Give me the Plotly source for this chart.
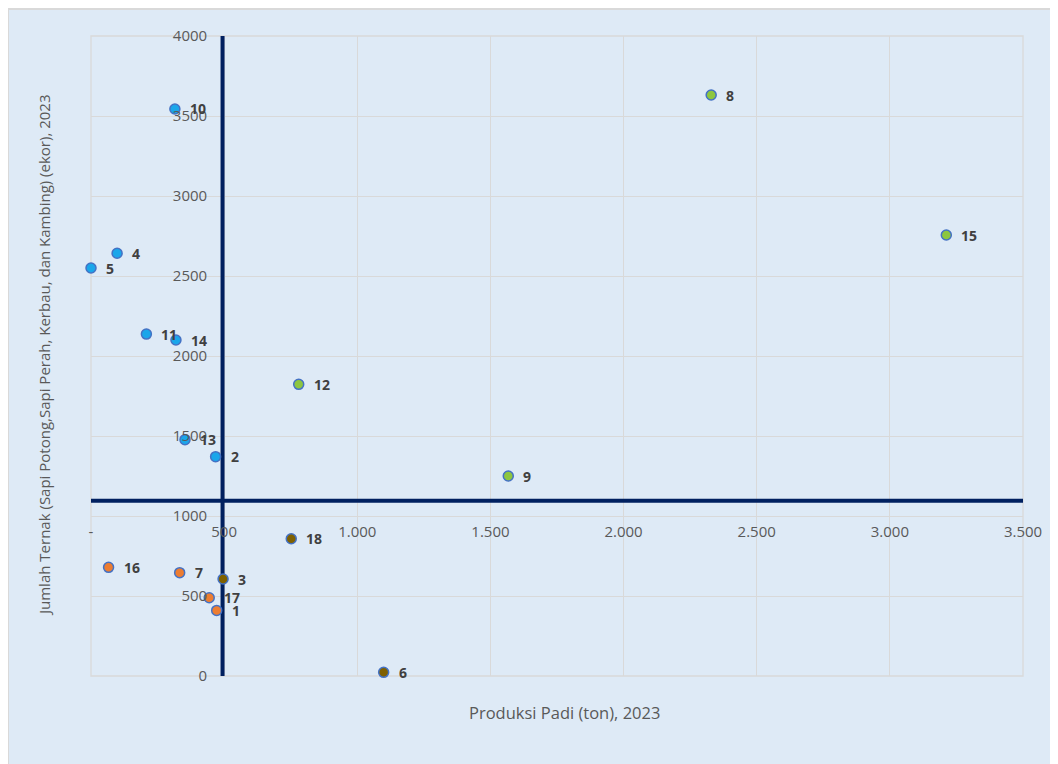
import plotly.graph_objects as go

# Data
labels = ["1", "2", "3", "4", "5", "6", "7", "8", "9", "10", "11", "12", "13", "14", "15", "16", "17", "18"]
padi = [472, 468, 496, 98, 0, 1099, 333, 2329, 1567, 315, 208, 780, 353, 319, 3212, 66, 444, 752]
ternak = [410, 1371, 606, 2642, 2550, 23, 646, 3631, 1250, 3544, 2137, 1823, 1477, 2100, 2756, 679, 489, 858]
quadrant = ["LL", "UL", "LR", "UL", "UL", "LR", "LL", "UR", "UR", "UL", "UL", "UR", "UL", "UL", "UR", "LL", "LL", "LR"]

quad_colors = {"UL": "#1AA6EA", "UR": "#8DC63F", "LL": "#ED7D31", "LR": "#7F6000"}

x_ticks = [0, 500, 1000, 1500, 2000, 2500, 3000, 3500]
x_ticktext = ["-", "500", "1.000", "1.500", "2.000", "2.500", "3.000", "3.500"]
y_ticks = [0, 500, 1000, 1500, 2000, 2500, 3000, 3500, 4000]
y_ticktext = ["0", "500", "1000", "1500", "2000", "2500", "3000", "3500", "4000"]

mean_x = 494
mean_y = 1096

x_title = "Produksi Padi (ton), 2023"
y_title = "Jumlah Ternak (Sapi Potong,Sapi Perah, Kerbau, dan Kambing) (ekor), 2023"

# page body has an 8px margin; figure sized to fit the window
OFF = 8
W, H = 1050, 756
L, R, T, B = 83, 35, 28, 88
pw, ph = W - L - R, H - T - B

def px_to_paper_x(px):
    return (px - OFF - L) / pw

def py_to_paper_y(py):
    return (H - B - (py - OFF)) / ph

fig = go.Figure()

# quadrant lines
fig.add_trace(go.Scatter(x=[x_ticks[0], x_ticks[-1]], y=[mean_y, mean_y], mode="lines",
                         line=dict(color="#002060", width=4), hoverinfo="skip", showlegend=False,
                         cliponaxis=False))
fig.add_trace(go.Scatter(x=[mean_x, mean_x], y=[y_ticks[0], y_ticks[-1]], mode="lines",
                         line=dict(color="#002060", width=4), hoverinfo="skip", showlegend=False,
                         cliponaxis=False))

fig.add_trace(go.Scatter(
    x=padi, y=ternak, mode="markers",
    marker=dict(size=10, color=[quad_colors[q] for q in quadrant],
                line=dict(color="#4472C4", width=1.5)),
    showlegend=False, cliponaxis=False, text=labels,
))

for lab, xv, yv in zip(labels, padi, ternak):
    fig.add_annotation(x=xv, y=yv, text=lab, showarrow=False, xanchor="left", yanchor="middle",
                       xshift=13, font=dict(family="Open Sans", size=14, color="#404040", weight="bold"))

# titles
fig.add_annotation(xref="paper", yref="paper", x=px_to_paper_x(564), y=py_to_paper_y(712),
                   xanchor="center", yanchor="middle",
                   text=x_title, showarrow=False, font=dict(family="Open Sans", size=16.5, color="#595959"))
fig.add_annotation(xref="paper", yref="paper", x=px_to_paper_x(44), y=py_to_paper_y(355),
                   xanchor="center", yanchor="middle",
                   text=y_title, showarrow=False, textangle=-90,
                   font=dict(family="Open Sans", size=15, color="#595959"))

# panel border (left/top edge)
fig.add_shape(type="rect", xref="paper", yref="paper",
              x0=px_to_paper_x(8), x1=px_to_paper_x(W + 40), y0=py_to_paper_y(H + 40), y1=py_to_paper_y(9),
              fillcolor="#DEEAF6", line=dict(color="#D9D9D9", width=2), layer="below")
# plot border
fig.add_shape(type="rect", xref="paper", yref="paper", x0=0, x1=1, y0=0, y1=1,
              line=dict(color="#D9D9D9", width=1.3), layer="below")

fig.update_layout(
    width=W, height=H,
    margin=dict(l=L, r=R, t=T, b=B),
    paper_bgcolor="#DEEAF6", plot_bgcolor="rgba(0,0,0,0)",
    font=dict(family="Open Sans", color="#595959"),
    xaxis=dict(range=[x_ticks[0], x_ticks[-1]], tickvals=x_ticks, ticktext=x_ticktext,
               showgrid=True, gridcolor="#D9D9D9", gridwidth=1.3, zeroline=False, showline=False,
               anchor="free", position=(1000 - y_ticks[0]) / (y_ticks[-1] - y_ticks[0]),
               ticks="outside", ticklen=2, tickcolor="rgba(0,0,0,0)",
               tickfont=dict(size=15, color="#595959"), domain=[0, 1]),
    yaxis=dict(range=[y_ticks[0], y_ticks[-1]], tickvals=y_ticks, ticktext=y_ticktext,
               showgrid=True, gridcolor="#D9D9D9", gridwidth=1.3, zeroline=False, showline=False,
               anchor="free", position=(500 - x_ticks[0]) / (x_ticks[-1] - x_ticks[0]),
               ticks="outside", ticklen=14, tickcolor="rgba(0,0,0,0)",
               tickfont=dict(size=15, color="#595959"), domain=[0, 1]),
)

fig.write_html("out.html")
